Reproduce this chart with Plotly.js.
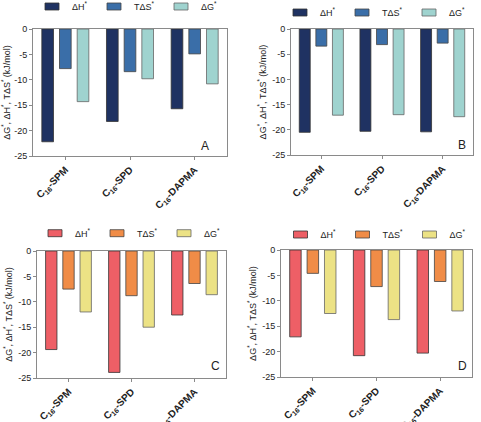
<!DOCTYPE html>
<html><head><meta charset="utf-8">
<script src="https://cdn.plot.ly/plotly-3.0.1.min.js"></script>
<style>html,body{margin:0;padding:0;background:#fff}</style>
</head><body><div id="chart" style="width:481px;height:422px"></div>
<script>
const categories = ['<b>C<sub>16</sub>-SPM</b>', '<b>C<sub>16</sub>-SPD</b>', '<b>C<sub>16</sub>-DAPMA</b>'];
const seriesNames = ['ΔH<sup>*</sup>', 'TΔS<sup>*</sup>', 'ΔG<sup>*</sup>'];
const panelLabels = ['A', 'B', 'C', 'D'];
const tickValues = [0, -5, -10, -15, -20, -25];
const tickLabels = ['0', '-5', '-10', '-15', '-20', '-25'];

const dH_A = [-22.2, -18.2, -15.7];
const TdS_A = [-7.8, -8.4, -4.9];
const dG_A = [-14.3, -9.8, -10.8];

const dH_B = [-20.5, -20.3, -20.4];
const TdS_B = [-3.4, -3.1, -2.8];
const dG_B = [-17.1, -17.0, -17.4];

const dH_C = [-19.4, -23.9, -12.6];
const TdS_C = [-7.5, -8.8, -6.4];
const dG_C = [-12.0, -15.0, -8.6];

const dH_D = [-17.1, -20.8, -20.3];
const TdS_D = [-4.6, -7.2, -6.2];
const dG_D = [-12.5, -13.7, -12.0];

const W = 481, H = 422;
const blues = ['#1f3262', '#3a6ea8', '#9fd3cf'];
const reds = ['#ee5f66', '#f08c47', '#ece285'];
const outlines = ['#333', '#444', '#666'];
const entryWidths = [17, 22, 22];

const panels = [
  {data: [dH_A, TdS_A, dG_A], colors: blues, px: [33, 227], py: [29, 156], leg: [32, -8], lab: [0.887, 0.079]},
  {data: [dH_B, TdS_B, dG_B], colors: blues, px: [291, 473], py: [29, 155], leg: [280, -2], lab: [0.937, 0.079]},
  {data: [dH_C, TdS_C, dG_C], colors: reds, px: [37, 226], py: [251, 378], leg: [35, 218.7], lab: [0.944, 0.094]},
  {data: [dH_D, TdS_D, dG_D], colors: reds, px: [281, 472], py: [250, 377], leg: [280.5, 220], lab: [0.948, 0.087]}
];

const traces = [];
const layout = {
  width: W, height: H,
  margin: {l: 0, r: 0, t: 0, b: 0, autoexpand: false},
  paper_bgcolor: '#fff', plot_bgcolor: '#fff',
  font: {family: 'Liberation Sans, Arial, sans-serif', size: 9, color: '#222'},
  barmode: 'group', bargap: 0.18, bargroupgap: 0.34,
  annotations: []
};

panels.forEach((p, i) => {
  const n = i === 0 ? '' : String(i + 1);
  const legName = 'legend' + n;
  p.data.forEach((vals, k) => {
    traces.push({
      type: 'bar', x: categories, y: vals, name: seriesNames[k],
      xaxis: 'x' + n, yaxis: 'y' + n, legend: legName, legendwidth: entryWidths[k],
      marker: {color: p.colors[k], line: {color: outlines[k], width: 0.8}},
      hoverinfo: 'skip'
    });
  });
  layout['xaxis' + n] = {
    domain: [p.px[0] / W, p.px[1] / W], anchor: 'y' + n,
    showline: true, linecolor: '#8a8a8a', linewidth: 1, mirror: true,
    ticks: 'outside', ticklen: 3, tickcolor: '#8a8a8a', tickangle: -45,
    tickfont: {size: 10, color: '#222'}, showgrid: false, zeroline: false
  };
  layout['yaxis' + n] = {
    domain: [1 - p.py[1] / H, 1 - p.py[0] / H], anchor: 'x' + n,
    range: [-25, 0], tickvals: tickValues, ticktext: tickLabels,
    showline: true, linecolor: '#8a8a8a', linewidth: 1, mirror: true,
    ticks: 'outside', ticklen: 3, tickcolor: '#8a8a8a',
    tickfont: {size: 9, color: '#222'}, showgrid: false, zeroline: false,
    title: {text: 'ΔG<sup>*</sup>, ΔH<sup>*</sup>, TΔS<sup>*</sup> (kJ/mol)', font: {size: 9, color: '#222'}, standoff: 4}
  };
  layout[legName] = {
    orientation: 'h', x: p.leg[0] / W, y: 1 - p.leg[1] / H, xanchor: 'left', yanchor: 'top',
    entrywidthmode: 'pixels', font: {size: 9, color: '#222'},
    bgcolor: 'rgba(0,0,0,0)', tracegroupgap: 0
  };
  layout.annotations.push({
    xref: 'x' + n + ' domain', yref: 'y' + n + ' domain', x: p.lab[0], y: p.lab[1],
    xanchor: 'center', yanchor: 'middle', text: panelLabels[i], showarrow: false,
    font: {size: 12, color: '#222'}
  });
});

Plotly.newPlot('chart', traces, layout, {displayModeBar: false, staticPlot: true}).then(gd => {
  // legend swatches drawn as wide rectangles like the reference
  gd.querySelectorAll('.legendpoints path').forEach(el => {
    el.setAttribute('d', 'M7,3.5H-7V-3.5H7Z');
    el.style.strokeWidth = '0.8px';
  });
});
</script></body></html>
